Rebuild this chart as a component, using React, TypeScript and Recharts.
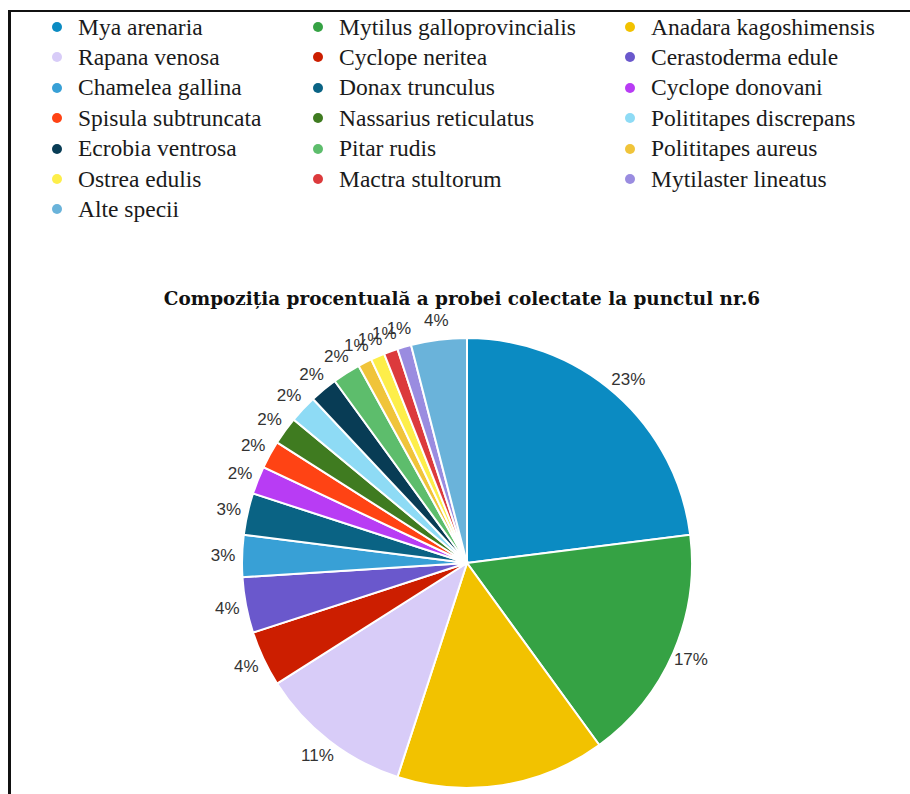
import React from 'react';
import { PieChart, Pie, Cell } from 'recharts';

const species = [
  'Mya arenaria',
  'Mytilus galloprovincialis',
  'Anadara kagoshimensis',
  'Rapana venosa',
  'Cyclope neritea',
  'Cerastoderma edule',
  'Chamelea gallina',
  'Donax trunculus',
  'Cyclope donovani',
  'Spisula subtruncata',
  'Nassarius reticulatus',
  'Polititapes discrepans',
  'Ecrobia ventrosa',
  'Pitar rudis',
  'Polititapes aureus',
  'Ostrea edulis',
  'Mactra stultorum',
  'Mytilaster lineatus',
  'Alte specii',
];

const percents = [23, 17, 15, 11, 4, 4, 3, 3, 2, 2, 2, 2, 2, 2, 1, 1, 1, 1, 4];

const colors = [
  '#0b8bc2', '#35a244', '#f2c200', '#d8ccf8', '#cc1e00', '#6a58cc',
  '#38a0d6', '#0a6384', '#b83cf4', '#ff4314', '#3f7b20', '#8edbf5',
  '#083c55', '#5dbd6c', '#f0c43a', '#fdee4a', '#dc3a3c', '#9a8ce0',
  '#6ab3da',
];

const title = 'Compoziția procentuală a probei colectate la punctul nr.6';

const data = species.map((name, i) => ({ name, value: percents[i] }));

const RAD = Math.PI / 180;

// labels that would fall below the picture's cropped bottom edge are not shown
const renderLabel = (props: any) => {
  const { cx, cy, midAngle, outerRadius, value } = props;
  const r = outerRadius + 19;
  const x = cx + r * Math.cos(-midAngle * RAD);
  const y = cy + r * Math.sin(-midAngle * RAD);
  if (y > 780) return null;
  return (
    <text
      x={x}
      y={y}
      textAnchor="middle"
      dominantBaseline="central"
      fill="#333"
      style={{ fontFamily: '"Liberation Sans", Arial, sans-serif', fontSize: 17 }}
    >
      {value}%
    </text>
  );
};

const colX = [57, 318, 630];

const LegendBlock = () => (
  <>
    {species.map((name, i) => {
      const col = i % 3;
      const row = Math.floor(i / 3);
      const y = 27 + row * 30.4;
      return (
        <div
          key={name}
          style={{
            position: 'absolute',
            left: colX[col] - 5,
            top: y - 15,
            height: 30,
            display: 'flex',
            alignItems: 'center',
            whiteSpace: 'nowrap',
          }}
        >
          <span
            style={{
              width: 10,
              height: 10,
              borderRadius: 5,
              background: colors[i],
              display: 'inline-block',
              marginRight: 16,
            }}
          />
          <span
            style={{
              fontFamily: '"Liberation Serif", "Times New Roman", serif',
              fontSize: 23.5,
              color: '#1a1a1a',
            }}
          >
            {name}
          </span>
        </div>
      );
    })}
  </>
);

export default function App() {
  return (
    <div
      style={{
        position: 'absolute',
        left: 0,
        top: 0,
        width: 910,
        height: 794,
        background: '#fff',
        overflow: 'hidden',
      }}
    >
      <div
        style={{
          position: 'absolute',
          left: 8,
          top: 10,
          width: 902,
          height: 784,
          borderLeft: '3px solid #111',
          borderTop: '2px solid #111',
          boxSizing: 'border-box',
        }}
      />
      <LegendBlock />
      <div
        style={{
          position: 'absolute',
          left: 0,
          width: 924,
          top: 288,
          textAlign: 'center',
          fontFamily: '"DejaVu Serif", Georgia, serif',
          fontWeight: 'bold',
          fontSize: 18.4,
          color: '#111',
        }}
      >
        {title}
      </div>
      <div style={{ position: 'absolute', left: 0, top: 0 }}>
        <PieChart width={910} height={794} margin={{ top: 0, right: 0, bottom: 0, left: 0 }}>
          <Pie
            data={data}
            dataKey="value"
            nameKey="name"
            cx={467}
            cy={563}
            outerRadius={225}
            startAngle={90}
            endAngle={-270}
            stroke="#fff"
            strokeWidth={2}
            label={renderLabel}
            labelLine={false}
            isAnimationActive={false}
          >
            {data.map((d, i) => (
              <Cell key={d.name} fill={colors[i]} />
            ))}
          </Pie>
        </PieChart>
      </div>
    </div>
  );
}
